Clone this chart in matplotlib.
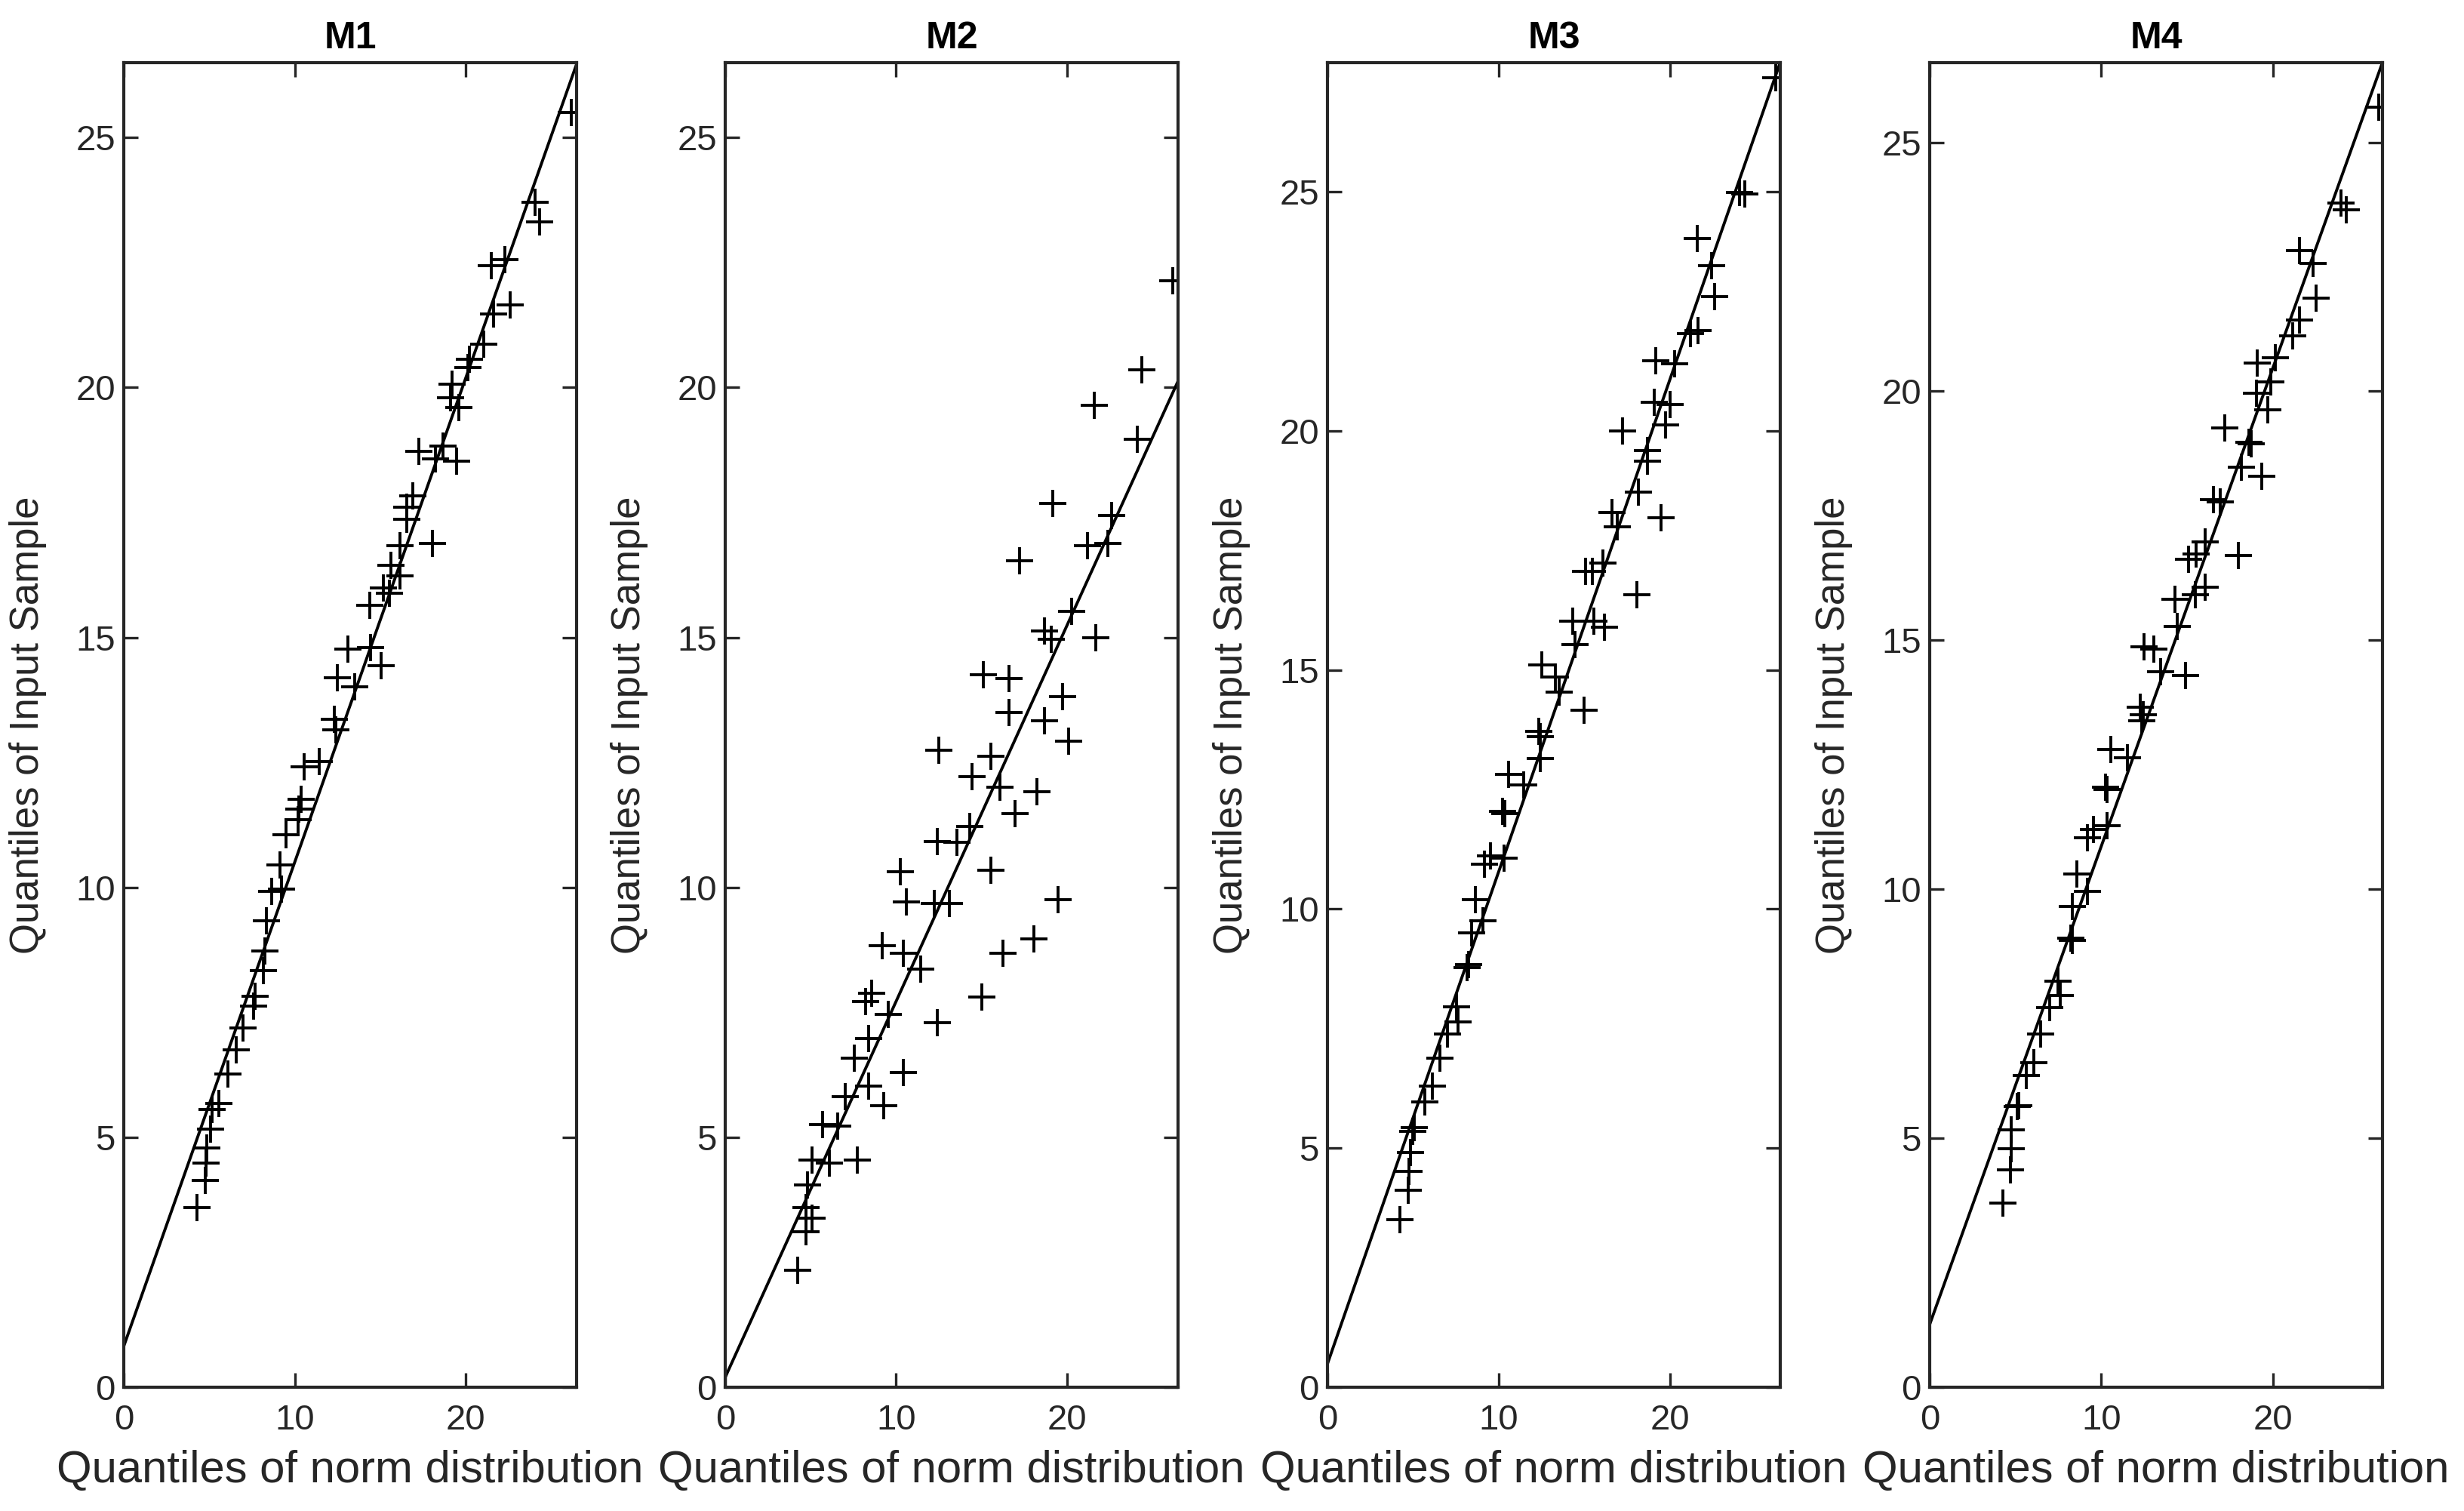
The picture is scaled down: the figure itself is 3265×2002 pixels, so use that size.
import numpy as np
import matplotlib
matplotlib.use("Agg")
import matplotlib.pyplot as plt

plt.rcParams['font.family'] = ['Liberation Sans', 'DejaVu Sans']

# =============================
# Data
# =============================
titles = ['M1', 'M2', 'M3', 'M4']

m1_x = [26.15, 24.06, 24.3, 21.5, 22.3, 21.6, 22.6, 21.06, 20.2, 20.1, 19.18, 19.1, 19.6,
        17.26, 18.66, 18.22, 19.44, 18.05, 16.9, 16.56, 16.56, 16.13, 15.6, 16.13, 15.17,
        15.52, 14.39, 13.11, 14.44, 15.05, 12.47, 13.51, 12.3, 12.38, 10.55, 11.42, 10.38,
        10.24, 10.2, 9.5, 9.15, 8.63, 9.24, 8.33, 8.23, 8.14, 7.67, 7.58, 6.97, 6.59, 6.1,
        5.58, 5.14, 5.06, 4.85, 4.8, 4.76, 4.27]
m1_y = [25.5, 23.71, 23.31, 22.44, 22.56, 21.47, 21.65, 20.87, 20.56, 20.4, 20.07, 19.8, 19.6,
        18.72, 18.83, 18.57, 18.53, 16.88, 17.83, 17.6, 17.36, 16.84, 16.45, 16.23, 15.99,
        15.88, 15.65, 14.76, 14.8, 14.43, 14.19, 14.02, 13.37, 13.15, 12.41, 12.52, 11.77,
        11.56, 11.35, 11.05, 10.45, 9.92, 9.97, 9.33, 8.73, 8.34, 7.82, 7.63, 7.18, 6.75, 6.27,
        5.67, 5.56, 5.16, 4.79, 4.48, 4.13, 3.6]

m2_x = [26.2, 24.36, 21.6, 24.1, 19.18, 22.6, 21.2, 22.4, 17.24, 20.26, 18.69, 19.08, 21.69,
        15.12, 16.6, 19.74, 16.6, 18.69, 20.09, 12.5, 15.55, 14.46, 16.08, 18.26, 16.95, 14.33,
        12.41, 13.55, 10.24, 15.55, 10.58, 12.24, 13.11, 19.48, 9.19, 10.41, 11.46, 18.08, 16.25,
        15.03, 8.58, 8.23, 9.54, 12.41, 8.37, 7.57, 10.41, 8.37, 7.04, 9.28, 5.7, 6.57, 5.09,
        6.1, 7.71, 4.83, 4.74, 5.09, 4.74, 4.25]
m2_y = [22.13, 20.36, 19.65, 18.96, 17.68, 17.44, 16.84, 16.88, 16.53, 15.52, 15.13, 14.97, 14.99,
        14.26, 14.18, 13.81, 13.5, 13.33, 12.93, 12.75, 12.62, 12.22, 12.01, 11.91, 11.48, 11.22,
        10.92, 10.9, 10.32, 10.34, 9.71, 9.68, 9.68, 9.76, 8.83, 8.68, 8.36, 8.97, 8.68,
        7.8, 7.88, 7.72, 7.46, 7.3, 6.98, 6.58, 6.29, 6.03, 5.82, 5.63, 5.26, 5.23, 4.54,
        4.49, 4.54, 4.04, 3.59, 3.38, 3.11, 2.34]

m3_x = [26.19, 24.05, 24.36, 21.6, 22.44, 22.62, 21.22, 21.66, 19.16, 20.26, 19.09, 20.0, 19.74,
        17.24, 18.69, 18.69, 18.17, 16.6, 16.95, 19.48, 15.08, 15.47, 16.08, 18.08, 14.33, 15.55,
        16.16, 14.45, 12.5, 13.3, 13.55, 14.98, 12.33, 12.42, 12.42, 10.58, 11.46, 10.24, 10.37,
        9.54, 9.19, 10.32, 8.63, 9.1, 8.4, 8.23, 8.14, 7.53, 7.62, 7.02, 6.57, 6.14, 5.7,
        5.09, 5.0, 4.83, 4.78, 4.71, 4.25]
m3_y = [27.38, 24.98, 24.95, 24.03, 23.46, 22.81, 22.04, 22.09, 21.47, 21.41, 20.59, 20.55, 20.12,
        20.0, 19.58, 19.37, 18.72, 18.29, 18.0, 18.19, 17.06, 17.06, 17.24, 16.57, 16.02, 16.02,
        15.9, 15.53, 15.1, 14.85, 14.53, 14.15, 13.71, 13.6, 13.15, 12.82, 12.6, 12.05, 11.99,
        11.11, 10.94, 11.07, 10.19, 9.75, 9.5, 8.84, 8.78, 7.95, 7.64, 7.38, 6.88, 6.29, 5.96,
        5.43, 5.35, 4.91, 4.52, 4.12, 3.5]

m4_x = [26.17, 23.99, 24.29, 21.55, 22.33, 22.54, 21.55, 21.15, 19.11, 20.16, 19.9, 19.06, 19.69,
        17.2, 18.6, 18.75, 18.15, 19.37, 16.55, 16.93, 16.06, 15.1, 15.54, 18.01, 16.06, 15.5,
        14.32, 14.41, 12.49, 13.07, 13.48, 14.93, 12.26, 12.37, 12.45, 10.57, 11.53, 10.23, 10.35,
        9.53, 9.18, 10.35, 8.57, 9.18, 8.31, 8.22, 8.3, 7.47, 7.61, 7.0, 6.48, 6.05, 5.61,
        5.12, 5.2, 4.77, 4.74, 4.7, 4.25]
m4_y = [25.7, 23.78, 23.65, 22.83, 22.57, 21.87, 21.43, 21.11, 20.57, 20.68, 20.19, 19.96, 19.63,
        19.26, 18.98, 18.94, 18.48, 18.3, 17.83, 17.78, 16.97, 16.63, 16.74, 16.7, 16.07, 15.91,
        15.83, 15.28, 14.87, 14.83, 14.37, 14.3, 13.65, 13.38, 13.5, 12.8, 12.64, 12.05, 12.0,
        11.2, 11.04, 11.28, 10.3, 9.96, 9.66, 9.02, 8.98, 8.15, 7.87, 7.62, 7.09, 6.52, 6.26,
        5.64, 5.66, 5.17, 4.79, 4.36, 3.7]

# reference line of each qq plot
line_intercept = [0.82, 0.20, 0.49, 1.26]
line_slope = [0.969, 0.752, 1.029, 0.960]

x_max = [26.47, 26.5, 26.45, 26.4]
y_max = [26.5, 26.5, 27.7, 26.6]

series = [(m1_x, m1_y), (m2_x, m2_y), (m3_x, m3_y), (m4_x, m4_y)]

# =============================
# Figure
# =============================
W, H, DPI = 3265, 2002, 200
fig = plt.figure(figsize=(W / DPI, H / DPI), dpi=DPI)

lefts = [164, 961, 1759, 2557]
ax_w = 600
ax_top, ax_bot = 83, 1838
frame = '#262626'

for i, (xs, ys) in enumerate(series):
    ax = fig.add_axes([lefts[i] / W, 1 - ax_bot / H, ax_w / W, (ax_bot - ax_top) / H])
    ax.plot(xs, ys, linestyle='none', marker='+', color='black', markersize=13, markeredgewidth=1.4)
    ax.axline((0, line_intercept[i]), slope=line_slope[i], color='black', linewidth=1.4)
    ax.set_xlim(0, x_max[i])
    ax.set_ylim(0, y_max[i])
    ax.set_xticks([0, 10, 20])
    ax.set_yticks([0, 5, 10, 15, 20, 25])
    ax.tick_params(direction='in', top=True, right=True, length=7, width=1.2,
                   colors=frame, labelsize=17)
    ax.tick_params(axis='x', pad=8)
    ax.tick_params(axis='y', pad=4)
    for sp in ax.spines.values():
        sp.set_color(frame)
        sp.set_linewidth(1.5)
    ax.set_title(titles[i], fontsize=18, fontweight='bold', color='black', pad=7)
    ax.set_xlabel('Quantiles of norm distribution', fontsize=21.5, color=frame, labelpad=6)
    ax.set_ylabel('Quantiles of Input Sample', fontsize=19, color=frame)
    ax.yaxis.set_label_coords(-0.17, 0.5)

fig.savefig('out.png', dpi=DPI, facecolor='white')
